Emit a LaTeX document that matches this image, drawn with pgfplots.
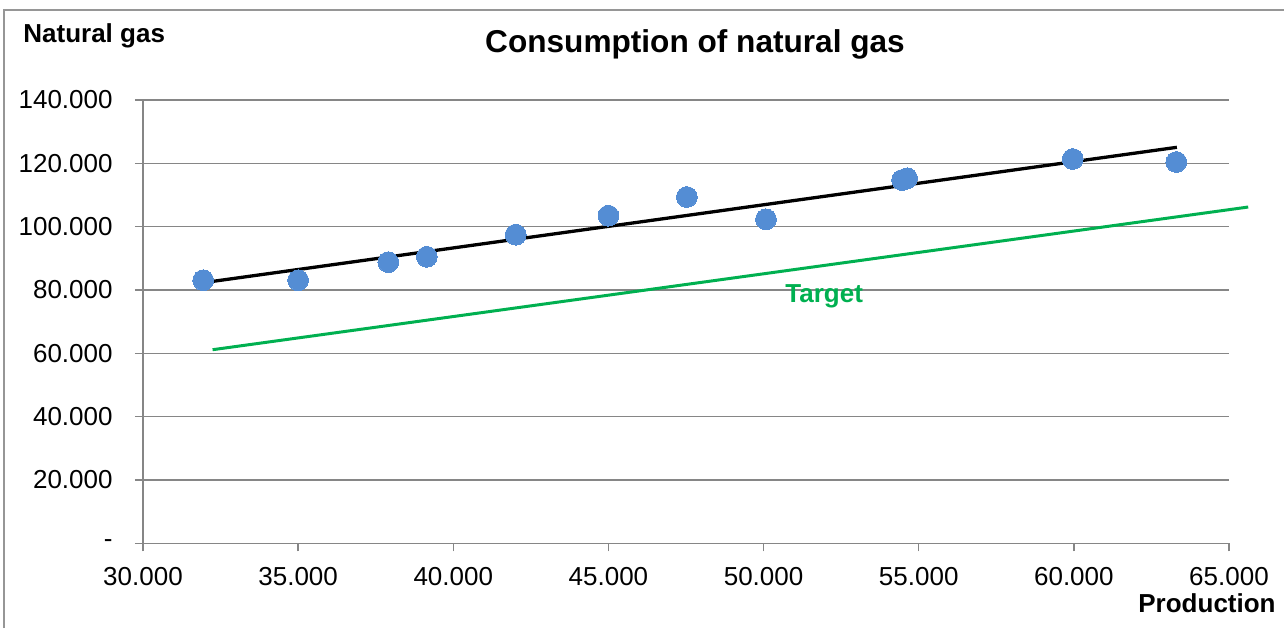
\documentclass[border=0pt]{standalone}
\usepackage{fontspec}
\setmainfont{Liberation Sans}
\usepackage{pgfplots}
\pgfplotsset{compat=1.18}

\definecolor{ptblue}{RGB}{84,141,212}
\definecolor{tgtgreen}{RGB}{0,176,80}
\definecolor{gridgray}{RGB}{134,134,134}
\definecolor{framegray}{RGB}{150,150,150}

\newcommand{\lblfont}{\fontsize{13}{15.6}\selectfont}

\begin{document}
\begin{tikzpicture}[x=1pt,y=1pt]
\useasboundingbox (0,0) rectangle (642,314);
% chart area frame
\draw[framegray, line width=0.8pt] (2,0) -- (2,309) -- (642,309);

\begin{axis}[
  at={(71.5pt,42.35pt)}, anchor=south west,
  scale only axis, width=543pt, height=221.65pt,
  xmin=30000, xmax=65000, ymin=0, ymax=140000,
  axis lines=left,
  axis line style={-, gridgray, line width=0.7pt},
  clip=false,
  scaled ticks=false,
  xtick={30000,35000,40000,45000,50000,55000,60000,65000},
  xticklabels={30.000,35.000,40.000,45.000,50.000,55.000,60.000,65.000},
  ytick={0,20000,40000,60000,80000,100000,120000,140000},
  yticklabels={-,20.000,40.000,60.000,80.000,100.000,120.000,140.000},
  ymajorgrids,
  grid style={gridgray, line width=0.7pt},
  tick align=outside,
  major tick length=4pt,
  tick style={gridgray, line width=0.7pt},
  ticklabel style={font=\lblfont, text=black},
  yticklabel style={inner sep=0pt, xshift=-11pt},
  xticklabel style={inner sep=0pt, yshift=-8pt},
]
% measured points
\addplot[ptblue, only marks, mark=*, mark size=5.2pt,
         mark options={fill=ptblue, draw=ptblue, line width=0pt}] coordinates {
  (31940,83080) (35000,83080) (37905,88790) (39147,90480)
  (42011,97460) (45000,103460) (47526,109360) (50077,102320)
  (54463,114730) (54625,115270) (59965,121360) (63301,120420)
};
% linear trend
\addplot[black, line width=1.65pt, no marks] coordinates {
  (31940,82300) (63320,125060)
};
% target line
\addplot[tgtgreen, line width=1.5pt, no marks] coordinates {
  (32243,61140) (65618,106200)
};
\node[anchor=base west, inner sep=0pt, text=tgtgreen,
      font=\bfseries\lblfont] at (axis cs:50690,76050) {Target};
\end{axis}

\node[anchor=base, inner sep=0pt, font=\bfseries\fontsize{15.8}{19}\selectfont]
  at (347.5,287.5) {Consumption of natural gas};
\node[anchor=base west, inner sep=0pt, font=\bfseries\lblfont]
  at (11.5,292.5) {Natural gas};
\node[anchor=base east, inner sep=0pt, font=\bfseries\lblfont]
  at (638,8) {Production};
\end{tikzpicture}
\end{document}
